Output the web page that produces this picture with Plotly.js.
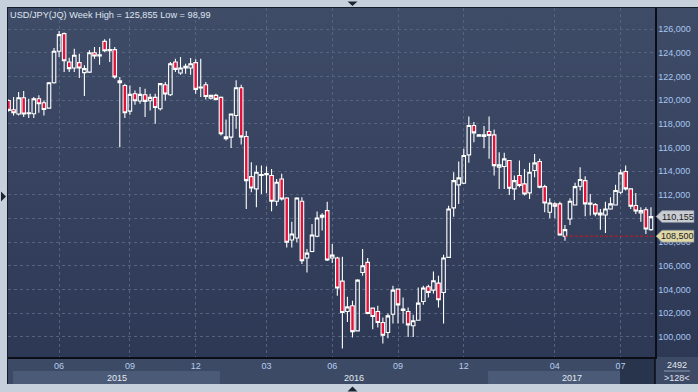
<!DOCTYPE html>
<html><head><meta charset="utf-8">
<script src="https://cdn.plot.ly/plotly-3.0.1.min.js"></script>
<style>
html,body{margin:0;padding:0;width:698px;height:392px;overflow:hidden;background:#c5d0dc;}
#frame{position:absolute;left:7px;top:7px;width:691px;height:377px;background:#3d4a66;border-left:1px solid #161c2a;border-top:1px solid #161c2a;box-sizing:border-box;}
#grad{position:absolute;left:8px;top:8px;width:690px;height:349px;background:linear-gradient(#3f4c68,#2d3855);}
#chart{position:absolute;left:0;top:0;width:698px;height:392px;}
</style></head><body>
<div id="frame"></div><div id="grad"></div><div id="chart"></div>
<script>
// Weekly USD/JPY candles (values in thousands shown with decimal comma)
const open = [
119.98,119.19,118.83,120.21,118.86,118.85,120.12,119.79,119.33,121.48,
124.14,125.63,123.23,122.72,123.18,122.33,122.38,124.02,123.74,124.98,
124.19,124.28,121.48,121.25,119.08,120.55,119.93,120.46,119.96,120.24,
119.28,121.31,120.46,123.23,122.30,122.72,122.72,123.18,121.03,121.31,
120.18,120.41,120.24,116.74,116.88,118.71,121.06,116.93,113.54,112.50,
113.63,113.71,113.63,111.45,113.34,111.73,108.18,108.34,111.45,106.65,
107.21,108.49,110.10,110.66,106.65,106.65,104.70,102.13,102.61,100.49,
105.43,106.28,102.41,102.13,101.20,100.35,101.90,104.02,102.21,102.13,
100.92,101.39,102.98,104.22,103.94,104.53,103.74,106.71,110.89,112.84,
112.98,115.38,117.86,116.96,117.07,117.36,117.07,114.33,114.39,114.90,
112.50,113.63,112.92,112.16,114.05,114.81,112.69,110.52,111.23,111.23,
108.49,109.95,111.14,112.72,113.20,111.20,111.17,110.46,110.29,110.80,
111.14,112.21,113.97,112.50,111.09,110.46,110.74,109.05];
const high = [
120.07,120.27,120.69,120.77,120.12,120.27,120.41,119.98,121.54,124.42,
125.855,125.72,123.60,124.36,123.94,122.95,124.22,124.50,124.50,125.15,
125.21,124.50,121.96,121.40,121.25,120.83,121.11,120.97,120.55,120.55,
121.45,121.54,123.23,123.51,123.66,123.09,123.57,123.46,123.51,121.54,
120.46,120.55,120.32,118.37,118.85,121.68,121.30,117.40,114.76,114.47,
114.47,114.39,114.19,113.34,113.77,111.80,109.73,111.80,111.79,107.41,
109.53,110.58,110.43,111.42,107.84,106.76,106.76,103.37,103.03,104.85,
107.41,106.65,102.47,102.61,101.62,101.96,104.30,104.05,103.32,102.47,
101.85,104.16,104.30,104.39,105.52,105.15,106.93,111.08,113.91,114.81,
115.89,118.63,118.15,117.15,117.81,118.63,117.52,115.60,115.55,114.95,
113.63,114.90,114.19,114.70,115.46,115.04,112.84,111.71,111.37,111.42,
109.45,111.71,113.01,114.33,113.57,112.07,111.31,110.80,111.42,111.79,
112.84,114.13,114.47,112.55,112.16,110.94,110.94,110.94];
const low = [
119.05,118.71,118.71,118.57,118.49,118.49,118.94,118.71,119.28,121.40,
123.66,122.38,122.38,122.38,121.88,120.35,122.30,123.51,123.01,124.08,
123.23,121.82,116.03,118.49,118.77,119.62,119.70,118.57,119.14,118.01,
119.14,119.98,120.35,122.38,122.16,122.24,122.16,120.55,120.27,120.07,
120.07,119.98,117.02,116.59,115.95,117.58,116.25,110.80,112.21,110.94,
112.07,112.13,110.60,111.08,111.51,107.55,107.55,107.98,106.14,105.43,
107.13,108.40,108.97,106.40,106.23,103.46,98.99,101.25,99.93,100.43,
105.15,101.90,100.63,100.77,99.42,99.87,101.11,101.11,101.11,99.98,
99.98,101.34,102.69,103.32,103.66,102.47,101.11,106.65,110.15,111.23,
112.92,114.70,116.45,116.95,115.94,115.04,113.63,112.50,112.50,111.99,
111.56,112.64,111.93,111.65,113.49,112.55,110.52,110.01,110.01,108.54,
108.12,109.45,111.09,112.36,110.18,110.24,110.18,109.05,108.77,110.74,
111.09,112.07,112.36,110.80,110.38,109.73,108.68,108.96];
const close = [
119.14,118.94,120.21,118.83,118.94,120.12,119.70,119.22,121.48,124.14,
125.55,123.34,122.67,123.80,122.72,122.67,124.02,123.74,123.85,124.19,
124.28,121.96,121.65,118.94,120.49,119.96,120.49,119.90,120.24,119.39,
121.40,120.52,123.09,122.61,122.72,122.86,123.09,120.92,121.11,120.32,
120.41,120.07,117.16,116.91,118.83,121.06,116.90,113.20,112.58,113.91,
113.71,113.80,111.45,113.06,111.65,107.98,108.68,111.73,106.42,107.07,
108.60,110.04,110.27,106.48,106.90,104.11,102.04,102.52,100.43,104.78,
106.00,101.96,101.71,101.20,100.12,101.76,103.94,102.69,102.33,101.00,
101.34,102.84,104.11,103.74,104.73,103.12,106.65,110.80,113.20,113.43,
115.32,117.86,117.24,117.07,116.93,117.02,114.47,114.53,115.04,112.55,
113.20,112.78,112.07,113.91,114.70,112.64,111.31,111.31,111.03,108.60,
109.05,111.45,112.69,113.29,111.23,111.31,110.38,110.29,110.80,111.23,
112.36,113.85,112.50,111.03,110.63,110.66,109.11,110.155];

// x-axis: bar index of first week of labelled months
const monthTickIdx = [10, 24, 37, 51, 64, 77, 90, 108, 121];
const monthLabels  = ['06','09','12','03','06','09','12','04','07'];
// y-axis price levels
const priceTicks = [100,102,104,106,108,110,112,114,116,118,120,122,124,126];
const yearLabels = ['2015','2016','2017'];
const yearFrom   = [0.9, 41.8, 94.8];
const yearTo     = [41.8, 94.8, 127.8];
const yearFilled = [true, false, true];

const markLevel = 108.5;     // horizontal marker line
const markStartIdx = 110;
const totalBars = 2492;
const titleText = 'USD/JPY(JQ) Week High = 125,855 Low = 98,99';

// ---- geometry helpers (plot area: x 8..655, y 8..357) ----
const X0 = -0.1, X1 = 127.8, Y0 = 98.28, Y1 = 127.8;
const PL = 8, PR = 655, PT = 8, PB = 357;
const px2x = px => (px - PL) / (PR - PL);
const py2y = py => (PB - py) / (PB - PT);
const i2x = i => (i - X0) / (X1 - X0);
const unitsPerPx = (Y1 - Y0) / (PB - PT);
const fmt = v => v.toFixed(3).replace('.', ',');
const lastClose = close[close.length - 1];

const idx = close.map((_, i) => i);

const trace = {
  type: 'candlestick', x: idx, open: open, high: high, low: low, close: close,
  increasing: {line: {color: '#ffffff', width: 1.1}, fillcolor: 'rgba(0,0,0,0)'},
  decreasing: {line: {color: '#ffffff', width: 1.1}, fillcolor: '#e3123a'},
  whiskerwidth: 0, hoverinfo: 'skip'
};

const shapes = [];
const annotations = [];
// year bands + labels
yearLabels.forEach((lab, k) => {
  if (yearFilled[k]) {
    shapes.push({type: 'rect', xref: 'paper', yref: 'paper', layer: 'below',
      x0: i2x(yearFrom[k]), x1: i2x(yearTo[k]), y0: py2y(384), y1: py2y(371),
      fillcolor: '#4b5a76', line: {width: 0}});
  }
  annotations.push({xref: 'paper', yref: 'paper', x: i2x((yearFrom[k] + yearTo[k]) / 2), y: py2y(377.5),
    xanchor: 'center', yanchor: 'middle', text: lab, showarrow: false,
    font: {size: 9, color: '#e4ebf4'}});
});
// dark highlight at right of time axis
shapes.push({type: 'rect', xref: 'paper', yref: 'paper', layer: 'below',
  x0: px2x(620), x1: 1, y0: py2y(384), y1: py2y(358), fillcolor: '#28334c', line: {width: 0}});
// vertical black line continuing to bottom
shapes.push({type: 'line', xref: 'paper', yref: 'paper', x0: 1, x1: 1, y0: py2y(384), y1: 0,
  line: {color: '#0b0e16', width: 1.5}});
// separator line under bar count
shapes.push({type: 'line', xref: 'paper', yref: 'paper', x0: px2x(664), x1: px2x(690), y0: py2y(371), y1: py2y(371),
  line: {color: '#8e9bb0', width: 1}});
// red dashed marker line
shapes.push({type: 'line', xref: 'x', yref: 'y', x0: markStartIdx, x1: X1, y0: markLevel, y1: markLevel,
  line: {color: '#d0141e', width: 1, dash: '3px,2px'}});
// price tags on the right axis
function tag(v, fill) {
  const h = 6 * unitsPerPx;
  const tx = px2x(656), sx = px2x(662), rx = px2x(694);
  shapes.push({type: 'path', xref: 'paper', yref: 'y', layer: 'above',
    path: `M ${tx},${v} L ${sx},${v + h} L ${rx},${v + h} L ${rx},${v - h} L ${sx},${v - h} Z`,
    fillcolor: fill, line: {color: '#7d8592', width: 0.6}});
  annotations.push({xref: 'paper', yref: 'y', x: px2x(677.5), y: v, xanchor: 'center', yanchor: 'middle',
    text: fmt(v), showarrow: false, font: {size: 9, color: '#1c1c1c'}});
}
tag(lastClose, '#c9cdd3');
tag(markLevel, '#ded7a8');
// bar counters
annotations.push({xref: 'paper', yref: 'paper', x: px2x(677), y: py2y(364.5), xanchor: 'center', yanchor: 'middle',
  text: String(totalBars), showarrow: false, font: {size: 9, color: '#e0e7f0'}});
annotations.push({xref: 'paper', yref: 'paper', x: px2x(677), y: py2y(378), xanchor: 'center', yanchor: 'middle',
  text: '&gt;' + close.length + '&lt;', showarrow: false, font: {size: 9, color: '#e0e7f0'}});
// frame arrows
function tri(pts) {
  shapes.push({type: 'path', xref: 'paper', yref: 'paper', layer: 'above',
    path: 'M ' + pts.map(p => px2x(p[0]) + ',' + py2y(p[1])).join(' L ') + ' Z',
    fillcolor: '#1d2535', line: {width: 0}});
}
tri([[347.5, 1.5], [357.5, 1.5], [352.5, 6]]);
tri([[347.5, 391.5], [357.5, 391.5], [352.5, 386.5]]);
tri([[1, 191.5], [1, 201.5], [6, 196.5]]);

// tick labels; the one fully covered by the last-price tag is left blank
const priceText = priceTicks.map(v => Math.abs(v - lastClose) < 0.6 ? '' : fmt(v));

const layout = {
  width: 698, height: 392,
  margin: {l: PL, r: 698 - PR, t: PT, b: 392 - PB, pad: 0},
  paper_bgcolor: 'rgba(0,0,0,0)', plot_bgcolor: 'rgba(0,0,0,0)',
  separators: ',.',
  showlegend: false,
  boxgap: 0.3, boxgroupgap: 0,
  font: {family: '"Liberation Sans", Arial, sans-serif', size: 9, color: '#b0cbee'},
  title: {text: titleText, xref: 'container', yref: 'container', x: 10 / 698, xanchor: 'left',
    y: 1 - 15 / 392, yanchor: 'middle', pad: {t: 0, b: 0, l: 0, r: 0},
    font: {size: 9.2, color: '#dfe6f0'}},
  xaxis: {range: [X0, X1], tickmode: 'array', tickvals: monthTickIdx, ticktext: monthLabels,
    showgrid: true, gridcolor: '#56637f', griddash: 'dot', gridwidth: 1, zeroline: false,
    showline: true, linecolor: '#0b0e16', linewidth: 1.5, ticks: '',
    tickfont: {size: 9, color: '#b4cdee'}, rangeslider: {visible: false}, fixedrange: true},
  yaxis: {range: [Y0, Y1], side: 'right', tickmode: 'array', tickvals: priceTicks, ticktext: priceText,
    showgrid: true, gridcolor: '#56637f', griddash: 'dot', gridwidth: 1, zeroline: false,
    showline: true, linecolor: '#0b0e16', linewidth: 1.5, ticks: '',
    tickfont: {size: 9, color: '#a8c6ee'}, fixedrange: true},
  shapes: shapes,
  annotations: annotations
};

Plotly.newPlot('chart', [trace], layout, {staticPlot: true, displayModeBar: false});
</script>
</body></html>
